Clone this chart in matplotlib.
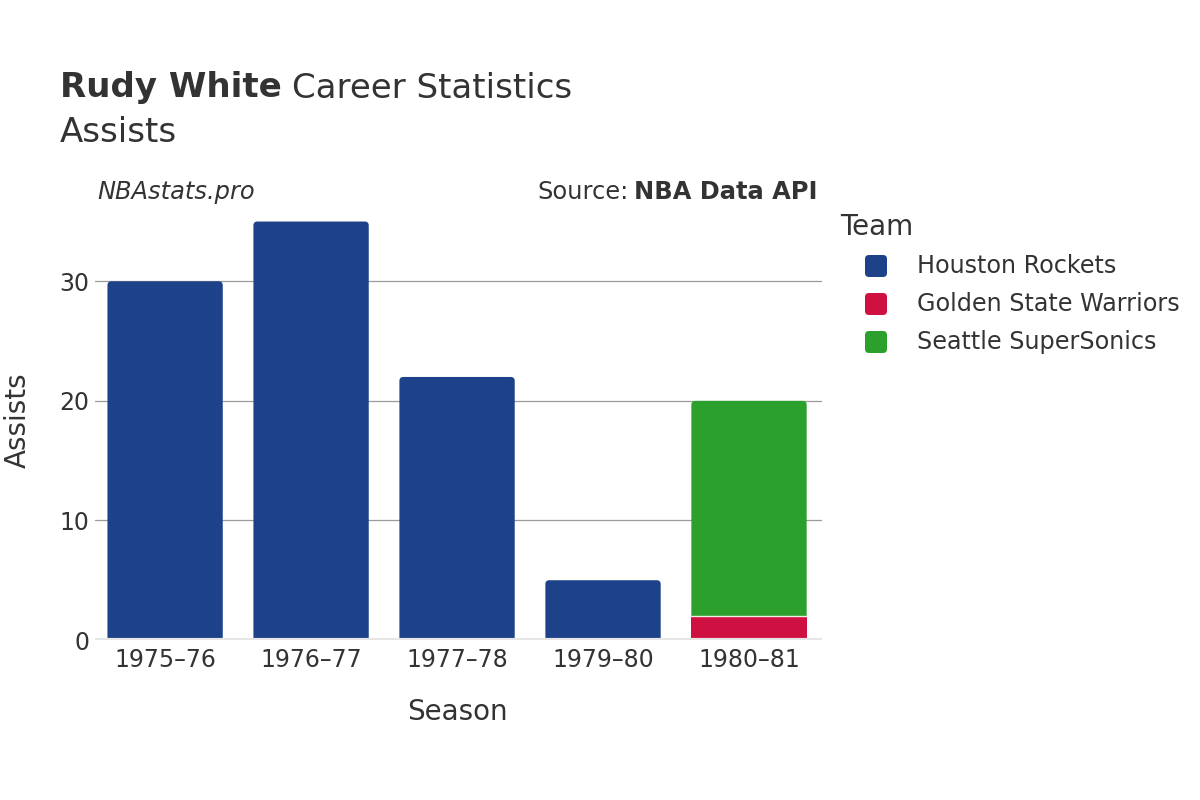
import matplotlib.pyplot as plt
from matplotlib.patches import FancyBboxPatch, Rectangle, PathPatch
from matplotlib.path import Path

plt.rcParams['font.family'] = ['DejaVu Sans']

# Data
seasons = ['1975–76', '1976–77', '1977–78', '1979–80', '1980–81']
teams = ['Houston Rockets', 'Golden State Warriors', 'Seattle SuperSonics']
houston = [30, 35, 22, 5, 0]
golden_state = [0, 0, 0, 0, 2]
seattle = [0, 0, 0, 0, 18]
team_colors = ['#1d428a', '#ce1141', '#2ca02c']

text_color = '#333333'
bar_width = 0.79


def top_rounded(left, bottom, width, height, rx, ry):
    # bar outline with the two top corners rounded
    right = left + width
    top = bottom + height
    verts = [(left, bottom), (left, top - ry), (left, top), (left + rx, top),
             (right - rx, top), (right, top), (right, top - ry),
             (right, bottom), (left, bottom)]
    codes = [Path.MOVETO, Path.LINETO, Path.CURVE3, Path.CURVE3,
             Path.LINETO, Path.CURVE3, Path.CURVE3, Path.LINETO, Path.CLOSEPOLY]
    return Path(verts, codes)


fig = plt.figure(figsize=(12, 8), dpi=100)
ax = fig.add_axes([0.0792, 0.2, 0.6058, 0.55])
ax.set_xlim(-0.48, 4.5)
ax.set_ylim(0, 36.8)

# Grid and zero line
for y in [10, 20, 30]:
    ax.axhline(y, color='#9a9a9a', linewidth=0.9, zorder=0)
ax.axhline(0, color='#e6e6e6', linewidth=3, zorder=3)

# Stacked bars, rounded corners on top segment only
series = [houston, golden_state, seattle]
x_pos = list(range(len(seasons)))
rx = 4 / 146
ry = 4 / 11.97
for i in x_pos:
    bottom = 0
    stacked = [(s[i], c) for s, c in zip(series, team_colors) if s[i] > 0]
    for k, (val, col) in enumerate(stacked):
        left = i - bar_width / 2
        if k == len(stacked) - 1:
            ax.add_patch(PathPatch(top_rounded(left, bottom, bar_width, val, rx, ry),
                                   facecolor=col, edgecolor='none', zorder=2))
        else:
            ax.add_patch(Rectangle((left, bottom), bar_width, val,
                                   facecolor=col, edgecolor='none', zorder=2))
        if bottom > 0:
            ax.plot([left, left + bar_width], [bottom, bottom], color='#f0f0e0',
                    linewidth=1.0, zorder=2.5)
        bottom += val

for side in ['top', 'right', 'left', 'bottom']:
    ax.spines[side].set_visible(False)
ax.set_xticks(x_pos)
ax.set_xticklabels(seasons, fontsize=17, color=text_color)
ax.set_yticks([0, 10, 20, 30])
ax.set_yticklabels(['0', '10', '20', '30'], fontsize=17, color=text_color)
ax.tick_params(axis='both', length=0)
ax.tick_params(axis='x', pad=6)
ax.tick_params(axis='y', pad=4)

fig.text(457 / 1200, 1 - 712 / 800, 'Season', fontsize=20, color=text_color,
         ha='center', va='center')
fig.text(18 / 1200, 1 - 420 / 800, 'Assists', rotation=90, fontsize=20,
         color=text_color, ha='center', va='center')

# Titles
fig.text(60 / 1200, 1 - 88 / 800, 'Rudy White', fontsize=24.5, fontweight='bold',
         color=text_color, va='center')
fig.text(292 / 1200, 1 - 88 / 800, 'Career Statistics', fontsize=24.5,
         color=text_color, va='center')
fig.text(60 / 1200, 1 - 132 / 800, 'Assists', fontsize=24.5, color=text_color,
         va='center')

fig.text(97 / 1200, 1 - 192 / 800, 'NBAstats.pro', fontsize=17.4, style='italic',
         color=text_color, va='center')
fig.text(818 / 1200, 1 - 192 / 800, 'NBA Data API', fontsize=17.4,
         fontweight='bold', color=text_color, va='center', ha='right')
fig.text(629 / 1200, 1 - 192 / 800, 'Source:', fontsize=17.4,
         color=text_color, va='center', ha='right')

# Legend drawn by hand
fig.text(840 / 1200, 1 - 227 / 800, 'Team', fontsize=20, color=text_color,
         va='center')
for j, (name, col) in enumerate(zip(teams, team_colors)):
    y_px = 266 + 38 * j
    fig.patches.append(FancyBboxPatch((8.65, (800 - y_px - 11) / 100), 0.22, 0.22,
                                      boxstyle='round,pad=0,rounding_size=0.04',
                                      facecolor=col, edgecolor='none',
                                      transform=fig.dpi_scale_trans, figure=fig))
    fig.text(917 / 1200, 1 - y_px / 800, name, fontsize=17.2, color=text_color,
             va='center')

fig.savefig('out.png', dpi=100)
